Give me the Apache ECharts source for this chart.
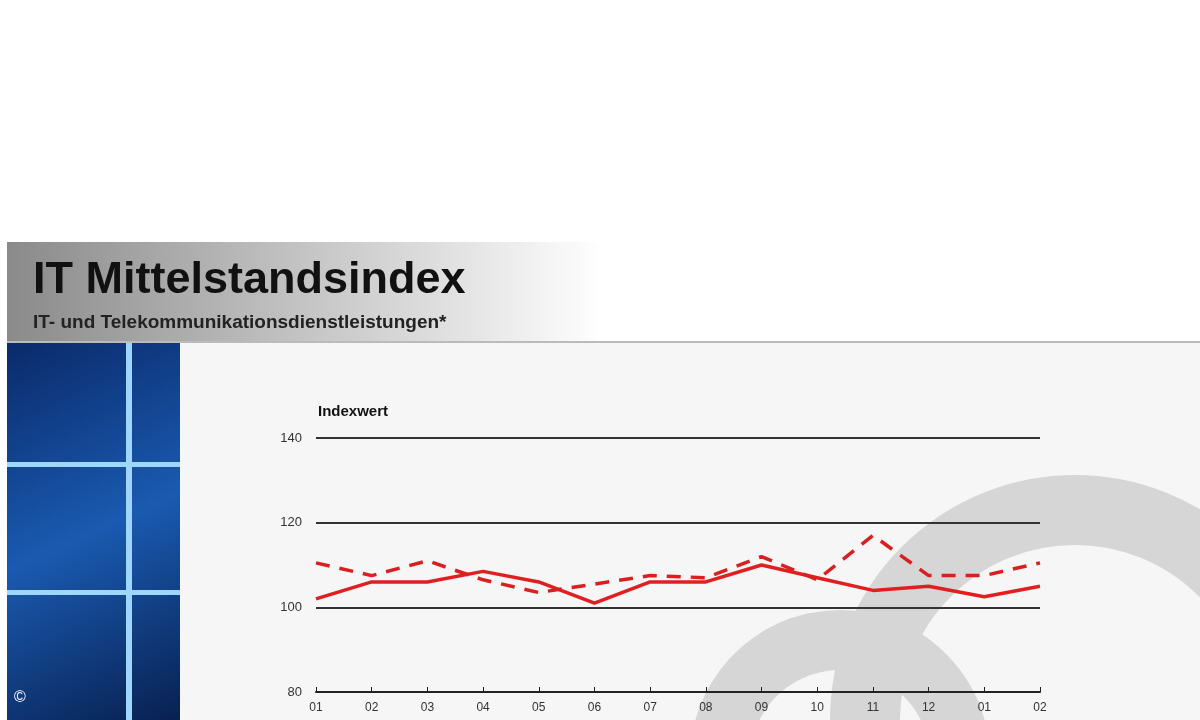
<!DOCTYPE html>
<html><head><meta charset="utf-8">
<script src="https://cdn.jsdelivr.net/npm/echarts@6/dist/echarts.min.js"></script>
<style>html,body{margin:0;padding:0;background:#fff}#c{width:1200px;height:720px}</style>
</head><body><div id="c"></div>
<script>
const categories = ['01','02','03','04','05','06','07','08','09','10','11','12','01','02'];
const solidValues = [102,106,106,108.5,106,101,106,106,110,107,104,105,102.5,105];
const dashedValues = [110.5,107.5,111,106.5,103.5,105.5,107.5,107,112,106.5,117,107.5,107.5,110.5];
const yTicks = [80,100,120,140];
const chart = echarts.init(document.getElementById('c'));
chart.setOption({
  backgroundColor:'#fff',
  graphic:[
    {type:'rect',shape:{x:7,y:242,width:1193,height:100},style:{fill:new echarts.graphic.LinearGradient(0,0,1,0,[{offset:0,color:'#8a8a8a'},{offset:0.3,color:'#d0d0d0'},{offset:0.5,color:'#ffffff'},{offset:1,color:'#ffffff'}])},z:-20},
    {type:'rect',shape:{x:7,y:341,width:1193,height:2},style:{fill:'#bbb'},z:-20},
    {type:'rect',shape:{x:7,y:343,width:1193,height:377},style:{fill:'#f6f6f6'},z:-20},
    {type:'arc',shape:{cx:1075,cy:720,r:210,startAngle:Math.PI*1.0,endAngle:Math.PI*2.05},style:{stroke:'#d6d6d6',lineWidth:70,fill:null},z:-15},
    {type:'arc',shape:{cx:840,cy:760,r:120,startAngle:Math.PI*1.05,endAngle:Math.PI*1.95},style:{stroke:'#d6d6d6',lineWidth:60,fill:null},z:-15},
    {type:'rect',shape:{x:7,y:343,width:173,height:377},style:{fill:new echarts.graphic.LinearGradient(0,0,1,1,[{offset:0,color:'#0a2a6a'},{offset:0.5,color:'#1a5ab0'},{offset:1,color:'#082050'}])},z:1},
    {type:'rect',shape:{x:126,y:343,width:6,height:377},style:{fill:'#9fd6ff'},z:2},
    {type:'rect',shape:{x:7,y:462,width:173,height:5},style:{fill:'#9fd6ff'},z:2},
    {type:'rect',shape:{x:7,y:590,width:173,height:5},style:{fill:'#9fd6ff'},z:2},
    {type:'text',left:33,top:258,style:{text:'IT Mittelstandsindex',font:'bold 45px Arial, "Liberation Sans"',fill:'#111'},z:3},
    {type:'text',left:33,top:313,style:{text:'IT- und Telekommunikationsdienstleistungen*',font:'bold 19px Arial, "Liberation Sans"',fill:'#222'},z:3},
    {type:'text',left:318,top:404,style:{text:'Indexwert',font:'bold 15px Arial, "Liberation Sans"',fill:'#111'},z:3},
    {type:'text',left:14,top:690,style:{text:'©',font:'16px Arial',fill:'#fff'},z:3}
  ],
  grid:{left:316,right:160,top:438,bottom:28,z:5},
  xAxis:{type:'category',data:categories,boundaryGap:false,z:5,
    axisLine:{lineStyle:{color:'#222',width:2}},axisTick:{show:true,inside:true,length:5,lineStyle:{color:'#222'}},
    axisLabel:{color:'#333',fontSize:12,margin:10,fontFamily:'Arial'}},
  yAxis:{type:'value',min:80,max:140,interval:20,z:5,
    axisLine:{show:false},axisTick:{show:false},
    axisLabel:{color:'#333',fontSize:13,margin:14,fontFamily:'Arial',customValues:yTicks},
    splitLine:{lineStyle:{color:'#333',width:2}}},
  series:[
    {type:'line',data:solidValues,symbol:'none',lineStyle:{color:'#e02020',width:3.5},z:6},
    {type:'line',data:dashedValues,symbol:'none',lineStyle:{color:'#d82020',width:3.5,type:[14,10]},z:6}
  ]
});
</script></body></html>
